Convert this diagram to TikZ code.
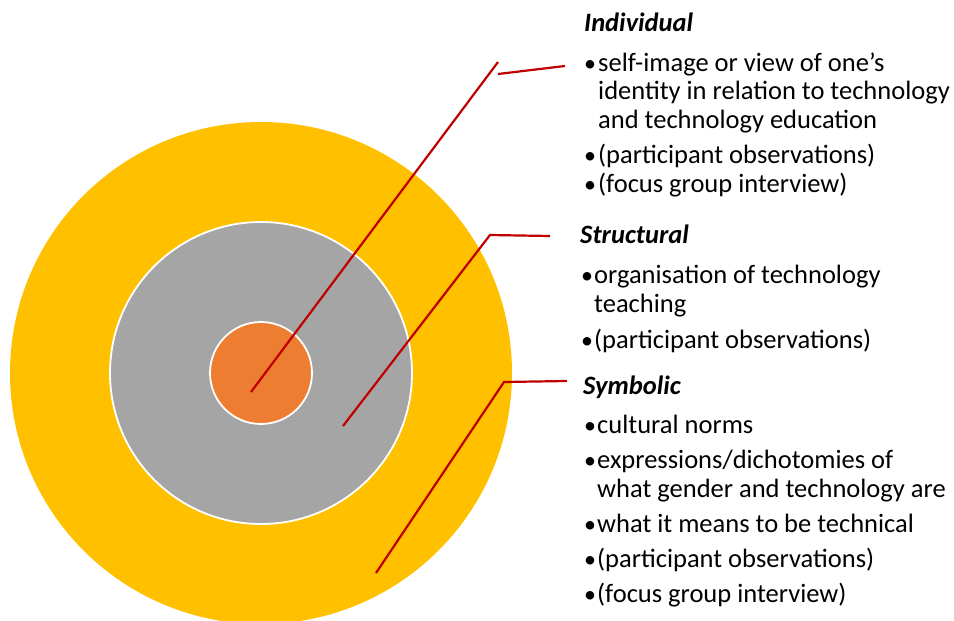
\documentclass[tikz,border=0pt]{standalone}
\usepackage{fontspec}
\setmainfont{Carlito}
\usetikzlibrary{positioning}
\definecolor{ringyellow}{HTML}{FFC000}
\definecolor{ringgray}{HTML}{A5A5A5}
\definecolor{ringorange}{HTML}{ED7D31}
\definecolor{leadred}{HTML}{C00000}

\begin{document}
\begin{tikzpicture}[
  x=1pt, y=-1pt,
  ring/.style={circle, inner sep=0pt, draw=white, line width=1.8pt},
  leader/.style={draw=leadred, line width=2.2pt},
  head/.style={anchor=base west, inner sep=0pt, font=\fontsize{26.5}{28.5}\selectfont\bfseries\itshape},
  bul/.style={anchor=base west, inner sep=0pt, font=\fontsize{24}{28.5}\selectfont},
  itm/.style={anchor=base west, inner sep=0pt, align=left, font=\fontsize{26.5}{28.5}\selectfont},
]
\clip (0,0) rectangle (954,621);

% Rings
\node[ring, fill=ringyellow, draw=none, minimum size=502pt] (symb) at (261,373) {};
\node[ring, fill=ringgray, minimum size=302pt] (struct) at (261,373) {};
\node[ring, fill=ringorange, minimum size=102pt] (indiv) at (261,373) {};

% Individual (multi-line nodes sit on their last baseline)
\node[head] (indhd) at (584,31) {Individual};
\node[bul] (indb1) at (584,71) {•};
\node[itm] (indt1) at (598,128) {self-image or view of one’s\\identity in relation to technology\\and technology education};
\node[bul] (indb2) at (584,163) {•};
\node[itm] (indt2) at (598,163) {(participant observations)};
\node[bul] (indb3) at (584,192) {•};
\node[itm] (indt3) at (598,192) {(focus group interview)};

% Structural
\node[head] (strhd) at (580,243) {Structural};
\node[bul] (strb1) at (581,283) {•};
\node[itm] (strt1) at (594,312) {organisation of technology\\teaching};
\node[bul] (strb2) at (581,348) {•};
\node[itm] (strt2) at (594,348) {(participant observations)};

% Symbolic
\node[head] (symhd) at (583,394) {Symbolic};
\node[bul] (symb1) at (584,433) {•};
\node[itm] (symt1) at (597,433) {cultural norms};
\node[bul] (symb2) at (584,468) {•};
\node[itm] (symt2) at (597,497) {expressions/dichotomies of\\what gender and technology are};
\node[bul] (symb3) at (584,532) {•};
\node[itm] (symt3) at (597,532) {what it means to be technical};
\node[bul] (symb4) at (584,567) {•};
\node[itm] (symt4) at (597,567) {(participant observations)};
\node[bul] (symb5) at (584,602) {•};
\node[itm] (symt5) at (597,602) {(focus group interview)};

% Leaders
\coordinate (indpin) at (251,392);
\coordinate (indelb) at (498,62);
\coordinate (indtail) at (498,74);
\coordinate (indend) at (565,66);
\coordinate (strpin) at (343,426);
\coordinate (strelb) at (490,235);
\coordinate (strend) at (550,236);
\coordinate (sympin) at (376,573);
\coordinate (symelb) at (504,382);
\coordinate (symend) at (567,381);
\draw[leader] (indpin) -- (indelb);
\draw[leader] (indtail) -- (indend);
\draw[leader] (strpin) -- (strelb) -- (strend);
\draw[leader] (sympin) -- (symelb) -- (symend);
\end{tikzpicture}
\end{document}
